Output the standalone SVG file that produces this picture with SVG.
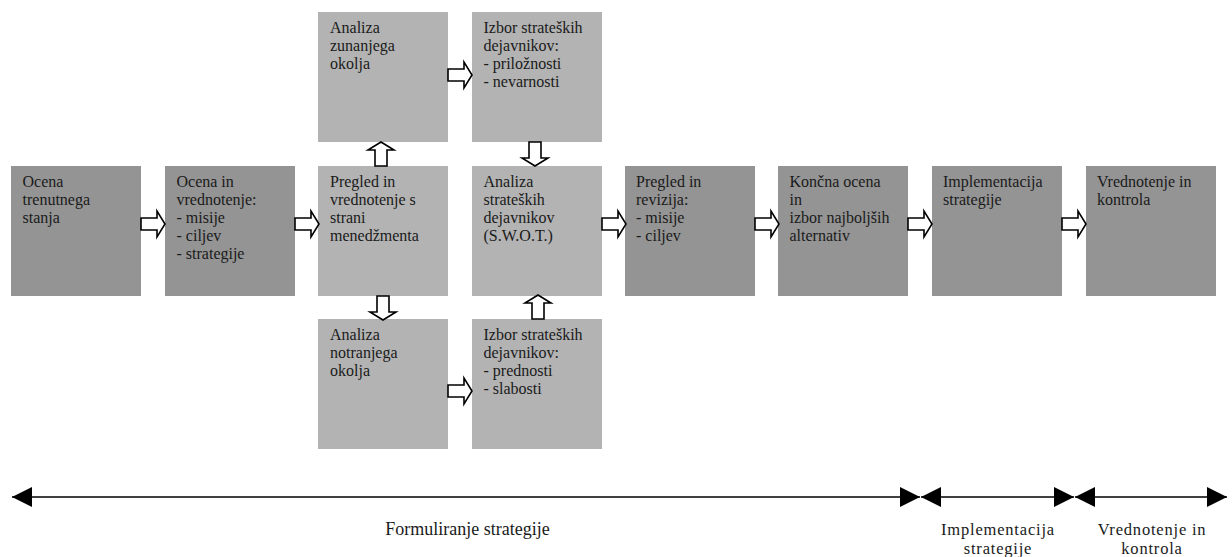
<svg xmlns="http://www.w3.org/2000/svg" width="1232" height="557" viewBox="0 0 1232 557">
  <defs>
    <style>
      .dark { fill: #949494; }
      .light { fill: #b3b3b3; }
      .t { font-family: "Liberation Serif", "Times New Roman", serif; font-size: 16px; fill: #1a1a1a; }
      .lbl { font-family: "Liberation Serif", "Times New Roman", serif; font-size: 18px; fill: #1a1a1a; text-anchor: middle; }
      .lbl2 { font-family: "Liberation Serif", "Times New Roman", serif; font-size: 16.5px; letter-spacing: 0.8px; fill: #1a1a1a; text-anchor: middle; }
      .blk { fill: #ffffff; stroke: #000000; stroke-width: 1.6; stroke-linejoin: miter; }
      .tl { stroke: #000000; stroke-width: 1.6; fill: none; }
    </style>
    <path id="ba" d="M0,-6 H16 V-13 L24,0 L16,13 V6 H0 Z"/>
    <marker id="tri" viewBox="0 0 20 20" refX="20" refY="10" markerWidth="20" markerHeight="20" markerUnits="userSpaceOnUse" orient="auto-start-reverse">
      <path d="M0,0 L20,10 L0,20 Z" fill="#000000"/>
    </marker>
  </defs>
  <rect width="1232" height="557" fill="#ffffff"/>

  <g id="n1">
    <rect class="dark" x="11" y="166" width="130" height="130"/>
    <text class="t" x="22.5" y="187"><tspan x="22.5">Ocena</tspan><tspan x="22.5" dy="18">trenutnega</tspan><tspan x="22.5" dy="18">stanja</tspan></text>
  </g>
  <g id="n2">
    <rect class="dark" x="165" y="166" width="130" height="130"/>
    <text class="t" x="176.5" y="187"><tspan x="176.5">Ocena in</tspan><tspan x="176.5" dy="18">vrednotenje:</tspan><tspan x="176.5" dy="18">- misije</tspan><tspan x="176.5" dy="18">- ciljev</tspan><tspan x="176.5" dy="18">- strategije</tspan></text>
  </g>
  <g id="n3">
    <rect class="light" x="318" y="166" width="130" height="130"/>
    <text class="t" x="330" y="187"><tspan x="330">Pregled in</tspan><tspan x="330" dy="18">vrednotenje s</tspan><tspan x="330" dy="18">strani</tspan><tspan x="330" dy="18">menedžmenta</tspan></text>
  </g>
  <g id="n4">
    <rect class="light" x="318" y="12" width="130" height="130"/>
    <text class="t" x="330" y="33"><tspan x="330">Analiza</tspan><tspan x="330" dy="18">zunanjega</tspan><tspan x="330" dy="18">okolja</tspan></text>
  </g>
  <g id="n5">
    <rect class="light" x="472" y="12" width="130" height="130"/>
    <text class="t" x="483.5" y="33"><tspan x="483.5">Izbor strateških</tspan><tspan x="483.5" dy="18">dejavnikov:</tspan><tspan x="483.5" dy="18">- priložnosti</tspan><tspan x="483.5" dy="18">- nevarnosti</tspan></text>
  </g>
  <g id="n6">
    <rect class="light" x="472" y="166" width="130" height="130"/>
    <text class="t" x="483.5" y="187"><tspan x="483.5">Analiza</tspan><tspan x="483.5" dy="18">strateških</tspan><tspan x="483.5" dy="18">dejavnikov</tspan><tspan x="483.5" dy="18">(S.W.O.T.)</tspan></text>
  </g>
  <g id="n7">
    <rect class="light" x="318" y="319" width="130" height="130"/>
    <text class="t" x="330" y="340"><tspan x="330">Analiza</tspan><tspan x="330" dy="18">notranjega</tspan><tspan x="330" dy="18">okolja</tspan></text>
  </g>
  <g id="n8">
    <rect class="light" x="472" y="319" width="130" height="130"/>
    <text class="t" x="483.5" y="340"><tspan x="483.5">Izbor strateških</tspan><tspan x="483.5" dy="18">dejavnikov:</tspan><tspan x="483.5" dy="18">- prednosti</tspan><tspan x="483.5" dy="18">- slabosti</tspan></text>
  </g>
  <g id="n9">
    <rect class="dark" x="625" y="166" width="130" height="130"/>
    <text class="t" x="636" y="187"><tspan x="636">Pregled in</tspan><tspan x="636" dy="18">revizija:</tspan><tspan x="636" dy="18">- misije</tspan><tspan x="636" dy="18">- ciljev</tspan></text>
  </g>
  <g id="n10">
    <rect class="dark" x="778" y="166" width="130" height="130"/>
    <text class="t" x="789.5" y="187"><tspan x="789.5">Končna ocena</tspan><tspan x="789.5" dy="18">in</tspan><tspan x="789.5" dy="18">izbor najboljših</tspan><tspan x="789.5" dy="18">alternativ</tspan></text>
  </g>
  <g id="n11">
    <rect class="dark" x="932" y="166" width="130" height="130"/>
    <text class="t" x="943" y="187"><tspan x="943">Implementacija</tspan><tspan x="943" dy="18">strategije</tspan></text>
  </g>
  <g id="n12">
    <rect class="dark" x="1086" y="166" width="130" height="130"/>
    <text class="t" x="1097" y="187"><tspan x="1097">Vrednotenje in</tspan><tspan x="1097" dy="18">kontrola</tspan></text>
  </g>

  <g id="connectors">
    <use href="#ba" class="blk" transform="translate(141,224)"/>
    <use href="#ba" class="blk" transform="translate(295,224)"/>
    <use href="#ba" class="blk" transform="translate(602,224)"/>
    <use href="#ba" class="blk" transform="translate(755,224)"/>
    <use href="#ba" class="blk" transform="translate(908,224)"/>
    <use href="#ba" class="blk" transform="translate(1062,224)"/>
    <use href="#ba" class="blk" transform="translate(448,75)"/>
    <use href="#ba" class="blk" transform="translate(448,391)"/>
    <use href="#ba" class="blk" transform="translate(381,166) rotate(-90)"/>
    <use href="#ba" class="blk" transform="translate(535,142) rotate(90)"/>
    <use href="#ba" class="blk" transform="translate(383,296) rotate(90)"/>
    <use href="#ba" class="blk" transform="translate(538,319) rotate(-90)"/>

    <line class="tl" x1="12" y1="497" x2="920" y2="497" marker-start="url(#tri)" marker-end="url(#tri)"/>
    <line class="tl" x1="921" y1="497" x2="1074" y2="497" marker-start="url(#tri)" marker-end="url(#tri)"/>
    <line class="tl" x1="1075" y1="497" x2="1227" y2="497" marker-start="url(#tri)" marker-end="url(#tri)"/>
  </g>

  <g id="labels">
    <text class="lbl" x="467.5" y="535">Formuliranje strategije</text>
    <text class="lbl2" x="998" y="535">Implementacija</text>
    <text class="lbl2" x="998" y="554">strategije</text>
    <text class="lbl2" x="1152" y="535">Vrednotenje in</text>
    <text class="lbl2" x="1152" y="554">kontrola</text>
  </g>
</svg>
